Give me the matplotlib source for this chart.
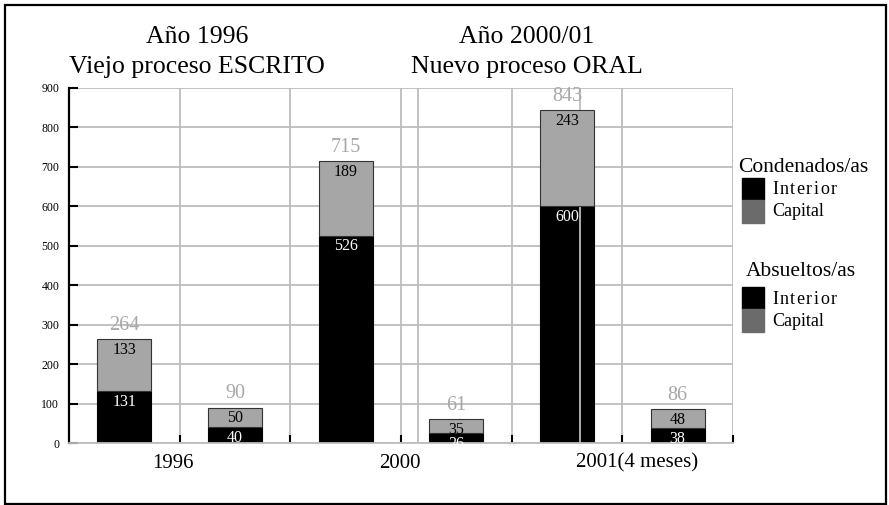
import matplotlib
matplotlib.use("Agg")
import matplotlib.pyplot as plt
from matplotlib.patches import Rectangle

plt.rcParams["font.family"] = ["Liberation Serif", "DejaVu Serif"]

# Values per bar: condenados / absueltos alternating for each period
interior = [131, 40, 526, 26, 600, 38]
capital = [133, 50, 189, 35, 243, 48]
group_labels = ["1996", "2000", "2001(4 meses)"]
group_label_x = [0.44, 2.49, 4.63]
y_ticks = list(range(0, 901, 100))

W, H = 889, 505
fig = plt.figure(figsize=(W / 100, H / 100), dpi=100)


def fx(px):
    return px / W


def fy(py):
    return 1 - py / H


ax = fig.add_axes([fx(69), fy(443), fx(733) - fx(69), fy(88) - fy(443)])
x = list(range(len(interior)))
totals = [a + b for a, b in zip(interior, capital)]

grid_c = "#bdbdbd"
bar_grey = "#a6a6a6"

ax.set_xlim(-0.5, 5.5)
ax.set_ylim(0, 900)

# grid
ax.set_axisbelow(True)
ax.set_yticks(y_ticks)
ax.set_xticks([i + 0.5 for i in x])
ax.grid(True, color=grid_c, lw=1.3, zorder=0)
ax.axvline(2.654, color=grid_c, lw=1.3, zorder=0.5)
ax.axvline(4.117, color=grid_c, lw=1.3, zorder=2.5)

for s in ("top", "right"):
    ax.spines[s].set_visible(False)
ax.spines["left"].set_color("black")
ax.spines["left"].set_linewidth(1.6)
ax.spines["bottom"].set_color(grid_c)
ax.spines["bottom"].set_linewidth(1.3)

ax.tick_params(axis="y", direction="in", length=6.5, width=1.5, color="black",
               labelsize=8.5, pad=7)
ax.tick_params(axis="x", direction="in", length=6, width=1.5, color="black",
               labelbottom=False)

ax.bar(x, interior, width=0.49, color="black", edgecolor="black", lw=0.8, zorder=2)
ax.bar(x, capital, width=0.49, bottom=interior, color=bar_grey, edgecolor="#333333",
       lw=0.8, zorder=3)

for xi, a, b, t in zip(x, interior, capital, totals):
    ax.annotate(str(b), xy=(xi, t), xytext=(0, -2), textcoords="offset points",
                ha="center", va="top", fontsize=11.5, color="black", zorder=4)
    ax.annotate(str(a), xy=(xi, a), xytext=(0, -2), textcoords="offset points",
                ha="center", va="top", fontsize=11.5, color="white", zorder=4)
    ax.annotate(str(t), xy=(xi, t), xytext=(0, 3), textcoords="offset points",
                ha="center", va="bottom", fontsize=14.5, color="#a8a8a8", zorder=4)

for gx, gl in zip(group_label_x, group_labels):
    ax.annotate(gl, xy=(gx, 0), xycoords=("data", "axes fraction"),
                xytext=(0, -14.5), textcoords="offset points",
                ha="center", va="center", fontsize=15, annotation_clip=False)

# headings
fig.text(fx(197), fy(37), "Año 1996", ha="center", va="center", fontsize=18.5)
fig.text(fx(197), fy(67), "Viejo proceso ESCRITO", ha="center", va="center", fontsize=18.5)
fig.text(fx(527), fy(37), "Año 2000/01", ha="center", va="center", fontsize=18.5)
fig.text(fx(527), fy(67), "Nuevo proceso ORAL", ha="center", va="center", fontsize=18.5)

# legends
leg_grey = "#6b6b6b"
renderer = fig.canvas.get_renderer()


def spaced_text(s, px, py, size, gap):
    """Left-aligned text with extra spacing between letters (pixel units)."""
    cur = px
    for ch in s:
        t = fig.text(fx(cur), fy(py), ch, ha="left", va="center", fontsize=size)
        cur += t.get_window_extent(renderer).width + gap


def legend_block(title, tx, ty, top):
    fig.text(fx(tx), fy(ty), title, ha="left", va="center", fontsize=15.5)
    fig.patches.append(Rectangle((fx(742), fy(top + 22)), fx(22), 22 / H,
                                 transform=fig.transFigure, color="black"))
    fig.patches.append(Rectangle((fx(742), fy(top + 45)), fx(22), 23 / H,
                                 transform=fig.transFigure, color=leg_grey))
    spaced_text("Interior", 772, top + 12, 13, 1.5)
    fig.text(fx(772), fy(top + 34), "Capital", ha="left", va="center", fontsize=13)


legend_block("Condenados/as", 738, 167, 178)
legend_block("Absueltos/as", 746, 272, 287)

# outer frame
fig.patches.append(Rectangle((fx(5), fy(504)), fx(881), 499 / H, transform=fig.transFigure,
                             fill=False, edgecolor="black", lw=1.6))

fig.savefig("out.png", dpi=100)
